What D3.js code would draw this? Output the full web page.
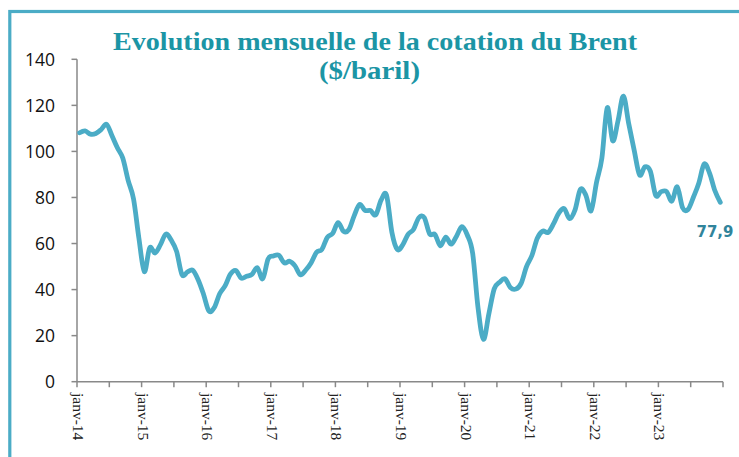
<!DOCTYPE html>
<html><head><meta charset="utf-8">
<script src="https://cdn.jsdelivr.net/npm/d3@7"></script>
<style>body{margin:0;background:#fff;}svg{display:block;}</style>
</head><body>
<script>
const years = ["14","15","16","17","18","19","20","21","22","23"];
const months = ["janv","févr","mars","avr","mai","juin","juil","août","sept","oct","nov","déc"];
const categories = years.flatMap(y => months.map(m => m + "-" + y));
const brent = [
 108.1,108.9,107.5,107.8,109.5,111.8,106.8,101.6,97.1,87.4,79.4,62.3,
 47.8,58.1,55.9,59.5,64.1,61.5,56.6,46.5,47.6,48.4,44.3,38.0,
 30.7,32.2,38.2,41.6,46.7,48.3,45.0,45.8,46.6,49.5,44.7,53.3,
 54.6,54.9,51.6,52.3,50.3,46.4,48.5,51.7,56.2,57.5,62.7,64.4,
 69.1,65.3,66.0,72.1,77.0,74.4,74.3,72.5,78.9,81.0,64.8,57.4,
 59.4,64.0,66.1,71.2,71.3,64.2,63.9,59.0,62.8,59.7,63.2,67.3,
 63.7,55.7,32.0,18.4,29.4,40.3,43.2,44.7,40.9,40.2,42.7,50.0,
 54.8,62.3,65.4,64.8,68.5,73.2,75.2,70.8,74.5,83.5,81.1,74.2,
 86.5,97.1,119.0,104.6,113.3,124.0,111.9,100.5,89.8,93.3,91.4,80.9,
 82.5,82.6,78.4,84.6,75.5,74.8,80.1,86.2,94.5,90.6,82.9,77.9
];
const yTicks = [0,20,40,60,80,100,120,140];
const titleLines = ["Evolution mensuelle de la cotation du Brent","($/baril)"];
const lastLabel = "77,9";

const W = 739, H = 457;
const svg = d3.select("body").append("svg").attr("width", W).attr("height", H);

// frame
svg.append("rect").attr("x", 9.8).attr("y", 11.5).attr("width", 800).attr("height", 600)
  .attr("fill", "none").attr("stroke", "#4bacc6").attr("stroke-width", 3.2);

const x = d3.scaleBand().domain(categories).range([77, 723]).paddingInner(0).paddingOuter(0);
const y = d3.scaleLinear().domain([0, 140]).range([381.7, 59.3]);
const axisColor = "#898989";

// y axis
const ya = svg.append("g");
ya.append("line").attr("x1", 77).attr("x2", 77).attr("y1", y(140)).attr("y2", y(0))
  .attr("stroke", axisColor).attr("stroke-width", 1.5);
ya.selectAll("line.t").data(yTicks).join("line").attr("class","t")
  .attr("x1", 71.5).attr("x2", 77).attr("y1", d => y(d)).attr("y2", d => y(d))
  .attr("stroke", axisColor).attr("stroke-width", 1.5);
ya.selectAll("text").data(yTicks).join("text")
  .attr("x", 55).attr("y", d => y(d) + 6.4).attr("text-anchor", "end")
  .attr("font-family", "'Open Sans', sans-serif").attr("font-size", 17.5).attr("fill", "#111")
  .text(d => d);

// x axis
const xa = svg.append("g");
xa.append("line").attr("x1", 77).attr("x2", 723).attr("y1", y(0)).attr("y2", y(0))
  .attr("stroke", axisColor).attr("stroke-width", 1.5);
const tickIdx = d3.range(0, categories.length + 1, 6);
xa.selectAll("line.t").data(tickIdx).join("line").attr("class","t")
  .attr("x1", i => i < categories.length ? x(categories[i]) : x.range()[1])
  .attr("x2", i => i < categories.length ? x(categories[i]) : x.range()[1])
  .attr("y1", y(0)).attr("y2", y(0) + 5.5)
  .attr("stroke", axisColor).attr("stroke-width", 1.5);
const labelCats = categories.filter((c, i) => i % 12 === 0);
xa.selectAll("text").data(labelCats).join("text")
  .attr("transform", d => `translate(${x(d) + 1},393) rotate(90)`)
  .attr("dy", "0.32em")
  .attr("font-family", "'Liberation Serif', 'Times New Roman', serif")
  .attr("font-size", 15.5).attr("fill", "#222")
  .text(d => d);

// line
const line = d3.line()
  .x((d, i) => x(categories[i]) + x.bandwidth() / 2)
  .y(d => y(d))
  .curve(d3.curveCardinal.tension(0));
svg.append("path").datum(brent).attr("d", line)
  .attr("fill", "none").attr("stroke", "#4bacc6").attr("stroke-width", 4.8)
  .attr("stroke-linejoin", "round").attr("stroke-linecap", "round");

// last value label
svg.append("text").attr("x", 696.5).attr("y", 236.5)
  .attr("font-family", "'DejaVu Sans', sans-serif").attr("font-weight", "bold")
  .attr("font-size", 16).attr("fill", "#31849b")
  .attr("textLength", 37).attr("lengthAdjust", "spacingAndGlyphs")
  .text(lastLabel);

// title
const tt = svg.append("g").attr("font-family", "'Liberation Serif', 'Times New Roman', serif")
  .attr("font-weight", "bold").attr("fill", "#1b95a5").attr("font-size", 24.5);
tt.append("text").attr("x", 113).attr("y", 50)
  .attr("textLength", 524).attr("lengthAdjust", "spacingAndGlyphs").text(titleLines[0]);
tt.append("text").attr("x", 319).attr("y", 79)
  .attr("textLength", 101).attr("lengthAdjust", "spacingAndGlyphs").text(titleLines[1]);
</script>
</body></html>
